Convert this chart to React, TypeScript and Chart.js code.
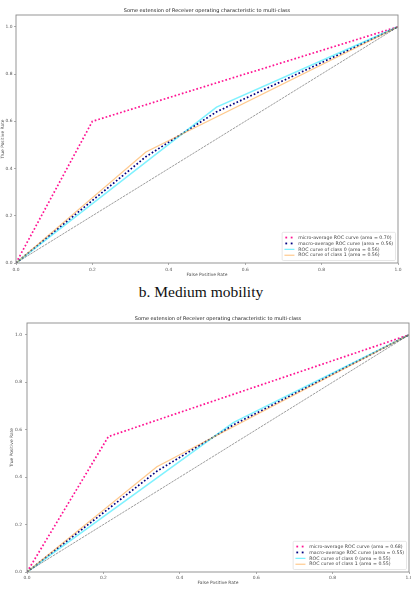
import React, { useEffect, useRef } from "react";
import { Chart, registerables } from "chart.js";

Chart.register(...registerables);

const FONT = '"DejaVu Sans", "Liberation Sans", sans-serif';

const TITLE = "Some extension of Receiver operating characteristic to multi-class";
const X_TITLE = "False Positive Rate";
const Y_TITLE = "True Positive Rate";
const CAPTION = "b. Medium mobility";

const xTicks = [0, 0.2, 0.4, 0.6, 0.8, 1.0];
const yTicks = [0, 0.2, 0.4, 0.6, 0.8, 1.0];
const chanceFpr = [0, 1];
const chanceTpr = [0, 1];

// Top chart
const topMicroFpr = [0, 0.2, 1];
const topMicroTpr = [0, 0.6, 1];
const topMacroFpr = [0, 0.34, 0.525, 1];
const topMacroTpr = [0, 0.45, 0.64, 1];
const topClass0Fpr = [0, 0.525, 1];
const topClass0Tpr = [0, 0.66, 1];
const topClass1Fpr = [0, 0.34, 1];
const topClass1Tpr = [0, 0.47, 1];
const topLabels = [
  "micro-average ROC curve (area = 0.70)",
  "macro-average ROC curve (area = 0.56)",
  "ROC curve of class 0 (area = 0.56)",
  "ROC curve of class 1 (area = 0.56)",
];

// Bottom chart
const botMicroFpr = [0, 0.213, 1];
const botMicroTpr = [0, 0.571, 1];
const botMacroFpr = [0, 0.34, 0.54, 1];
const botMacroTpr = [0, 0.425, 0.62, 1];
const botClass0Fpr = [0, 0.54, 1];
const botClass0Tpr = [0, 0.63, 1];
const botClass1Fpr = [0, 0.34, 1];
const botClass1Tpr = [0, 0.444, 1];
const botLabels = [
  "micro-average ROC curve (area = 0.68)",
  "macro-average ROC curve (area = 0.55)",
  "ROC curve of class 0 (area = 0.55)",
  "ROC curve of class 1 (area = 0.55)",
];

const pts = (xs: number[], ys: number[]) => xs.map((x, i) => ({ x, y: ys[i] }));

type Geo = {
  top: number;
  height: number;
  yAxisW: number;
  padRight: number;
  plotTop: number;
  xAxisH: number;
  xTickPad: number;
  xTitlePad: number;
  yTickPad: number;
  yTitlePad: number;
};

type Series = {
  microFpr: number[]; microTpr: number[];
  macroFpr: number[]; macroTpr: number[];
  c0Fpr: number[]; c0Tpr: number[];
  c1Fpr: number[]; c1Tpr: number[];
  labels: string[];
};

function RocChart({ geo, s }: { geo: Geo; s: Series }) {
  const ref = useRef<HTMLCanvasElement | null>(null);
  useEffect(() => {
    if (!ref.current) return;
    const legendItems = [
      { label: s.labels[0], color: "#ff1493", dotted: true },
      { label: s.labels[1], color: "#000080", dotted: true },
      { label: s.labels[2], color: "rgba(0,230,255,0.55)", dotted: false },
      { label: s.labels[3], color: "rgba(255,150,30,0.5)", dotted: false },
    ];
    const decor = {
      id: "decor",
      afterDatasetsDraw(chart: any) {
        const ctx = chart.ctx;
        const a = chart.chartArea;
        ctx.save();
        // frame
        ctx.strokeStyle = "#8a8a8a";
        ctx.lineWidth = 0.9;
        ctx.strokeRect(a.left, a.top, a.right - a.left, a.bottom - a.top);
        // title
        ctx.fillStyle = "#222";
        ctx.font = `5px ${FONT}`;
        ctx.textAlign = "center";
        ctx.textBaseline = "bottom";
        ctx.fillText(TITLE, (a.left + a.right) / 2, a.top - 1.5);
        // legend
        const fs = 4.7;
        ctx.font = `${fs}px ${FONT}`;
        const rowH = 5.9;
        const pad = 2.3;
        const handleW = 10;
        const gap = 3.8;
        const textW = Math.max(...legendItems.map((i) => ctx.measureText(i.label).width));
        const boxW = pad + handleW + gap + textW + pad;
        const boxH = pad * 2 + rowH * legendItems.length;
        const bx = a.right - 2.5 - boxW;
        const by = a.bottom - 2.5 - boxH;
        ctx.fillStyle = "rgba(255,255,255,0.85)";
        ctx.strokeStyle = "#d5d5d5";
        ctx.lineWidth = 0.6;
        ctx.beginPath();
        ctx.roundRect(bx, by, boxW, boxH, 1.2);
        ctx.fill();
        ctx.stroke();
        ctx.textAlign = "left";
        ctx.textBaseline = "middle";
        legendItems.forEach((it, i) => {
          const cy = by + pad + rowH * (i + 0.5);
          if (it.dotted) {
            ctx.fillStyle = it.color;
            [bx + pad + 1.8, bx + pad + 7.2].forEach((dx) => {
              ctx.fillRect(dx - 0.9, cy - 0.9, 1.8, 1.8);
            });
          } else {
            ctx.strokeStyle = it.color;
            ctx.lineWidth = 1.2;
            ctx.beginPath();
            ctx.moveTo(bx + pad, cy);
            ctx.lineTo(bx + pad + handleW, cy);
            ctx.stroke();
          }
          ctx.fillStyle = "#444";
          ctx.fillText(it.label, bx + pad + handleW + gap, cy);
        });
        ctx.restore();
      },
    };
    const chart = new Chart(ref.current, {
      type: "line",
      data: {
        datasets: [
          {
            label: "chance",
            data: pts(chanceFpr, chanceTpr),
            borderColor: "rgba(40,40,40,0.65)",
            borderWidth: 0.7,
            borderDash: [2.5, 0.9],
          },
          {
            label: s.labels[3],
            data: pts(s.c1Fpr, s.c1Tpr),
            borderColor: "rgba(255,150,30,0.5)",
            borderWidth: 1.3,
          },
          {
            label: s.labels[2],
            data: pts(s.c0Fpr, s.c0Tpr),
            borderColor: "rgba(0,230,255,0.5)",
            borderWidth: 1.6,
          },
          {
            label: s.labels[1],
            data: pts(s.macroFpr, s.macroTpr),
            borderColor: "#000080",
            borderWidth: 1.7,
            borderDash: [1.7, 2.1],
          },
          {
            label: s.labels[0],
            data: pts(s.microFpr, s.microTpr),
            borderColor: "#ff1493",
            borderWidth: 1.7,
            borderDash: [1.7, 2.1],
          },
        ],
      },
      options: {
        animation: false,
        responsive: false,
        maintainAspectRatio: false,
        layout: { padding: { top: geo.plotTop, right: geo.padRight, left: 0, bottom: 0 } },
        elements: { point: { radius: 0, hoverRadius: 0 }, line: { tension: 0 } },
        plugins: {
          legend: { display: false },
          title: { display: false },
          tooltip: { enabled: false },
        },
        events: [],
        scales: {
          x: {
            type: "linear",
            min: 0,
            max: 1,
            afterBuildTicks: (sc: any) => {
              sc.ticks = xTicks.map((v) => ({ value: v }));
            },
            afterFit: (sc: any) => {
              sc.height = geo.xAxisH;
              sc.paddingLeft = 0;
              sc.paddingRight = 0;
            },
            border: { display: false },
            grid: { drawOnChartArea: false, drawTicks: true, tickLength: 2, color: "#777", lineWidth: 0.6 },
            ticks: {
              font: { size: 4.4, family: FONT },
              color: "#555",
              padding: geo.xTickPad,
              maxRotation: 0,
              autoSkip: false,
              callback: (v: any) => Number(v).toFixed(1),
            },
            title: {
              display: true,
              text: X_TITLE,
              font: { size: 4.4, family: FONT },
              color: "#555",
              padding: { top: 0, bottom: geo.xTitlePad },
            },
          },
          y: {
            type: "linear",
            min: 0,
            max: 1.05,
            afterBuildTicks: (sc: any) => {
              sc.ticks = yTicks.map((v) => ({ value: v }));
            },
            afterFit: (sc: any) => {
              sc.width = geo.yAxisW;
              sc.paddingTop = 0;
              sc.paddingBottom = 0;
            },
            border: { display: false },
            grid: { drawOnChartArea: false, drawTicks: true, tickLength: 2, color: "#777", lineWidth: 0.6 },
            ticks: {
              font: { size: 4.4, family: FONT },
              color: "#555",
              padding: geo.yTickPad,
              autoSkip: false,
              callback: (v: any) => Number(v).toFixed(1),
            },
            title: {
              display: true,
              text: Y_TITLE,
              font: { size: 4.4, family: FONT },
              color: "#555",
              padding: { top: geo.yTitlePad, bottom: 0 },
            },
          },
        },
      } as any,
      plugins: [decor],
    });
    return () => chart.destroy();
  }, []);
  return (
    <canvas
      ref={ref}
      width={411}
      height={geo.height}
      style={{ position: "absolute", left: 0, top: geo.top, width: 411, height: geo.height }}
    />
  );
}

const topGeo: Geo = {
  top: 0,
  height: 283,
  yAxisW: 16,
  padRight: 13,
  plotTop: 15,
  xAxisH: 20,
  xTickPad: 2,
  xTitlePad: 5.3,
  yTickPad: 1.5,
  yTitlePad: 0.3,
};

const botGeo: Geo = {
  top: 305,
  height: 288,
  yAxisW: 27,
  padRight: 2,
  plotTop: 18,
  xAxisH: 21,
  xTickPad: 1.2,
  xTitlePad: 7.3,
  yTickPad: 3,
  yTitlePad: 9.3,
};

const topSeries: Series = {
  microFpr: topMicroFpr, microTpr: topMicroTpr,
  macroFpr: topMacroFpr, macroTpr: topMacroTpr,
  c0Fpr: topClass0Fpr, c0Tpr: topClass0Tpr,
  c1Fpr: topClass1Fpr, c1Tpr: topClass1Tpr,
  labels: topLabels,
};

const botSeries: Series = {
  microFpr: botMicroFpr, microTpr: botMicroTpr,
  macroFpr: botMacroFpr, macroTpr: botMacroTpr,
  c0Fpr: botClass0Fpr, c0Tpr: botClass0Tpr,
  c1Fpr: botClass1Fpr, c1Tpr: botClass1Tpr,
  labels: botLabels,
};

export default function App() {
  return (
    <div
      style={{
        position: "fixed",
        left: 0,
        top: 0,
        width: 411,
        height: 593,
        background: "#fff",
        overflow: "hidden",
      }}
    >
      <RocChart geo={topGeo} s={topSeries} />
      <div
        style={{
          position: "absolute",
          left: 0,
          top: 283,
          width: 402,
          textAlign: "center",
          fontFamily: '"Liberation Serif", "DejaVu Serif", serif',
          fontSize: 15.5,
          lineHeight: "17px",
          color: "#111",
        }}
      >
        {CAPTION}
      </div>
      <RocChart geo={botGeo} s={botSeries} />
    </div>
  );
}
